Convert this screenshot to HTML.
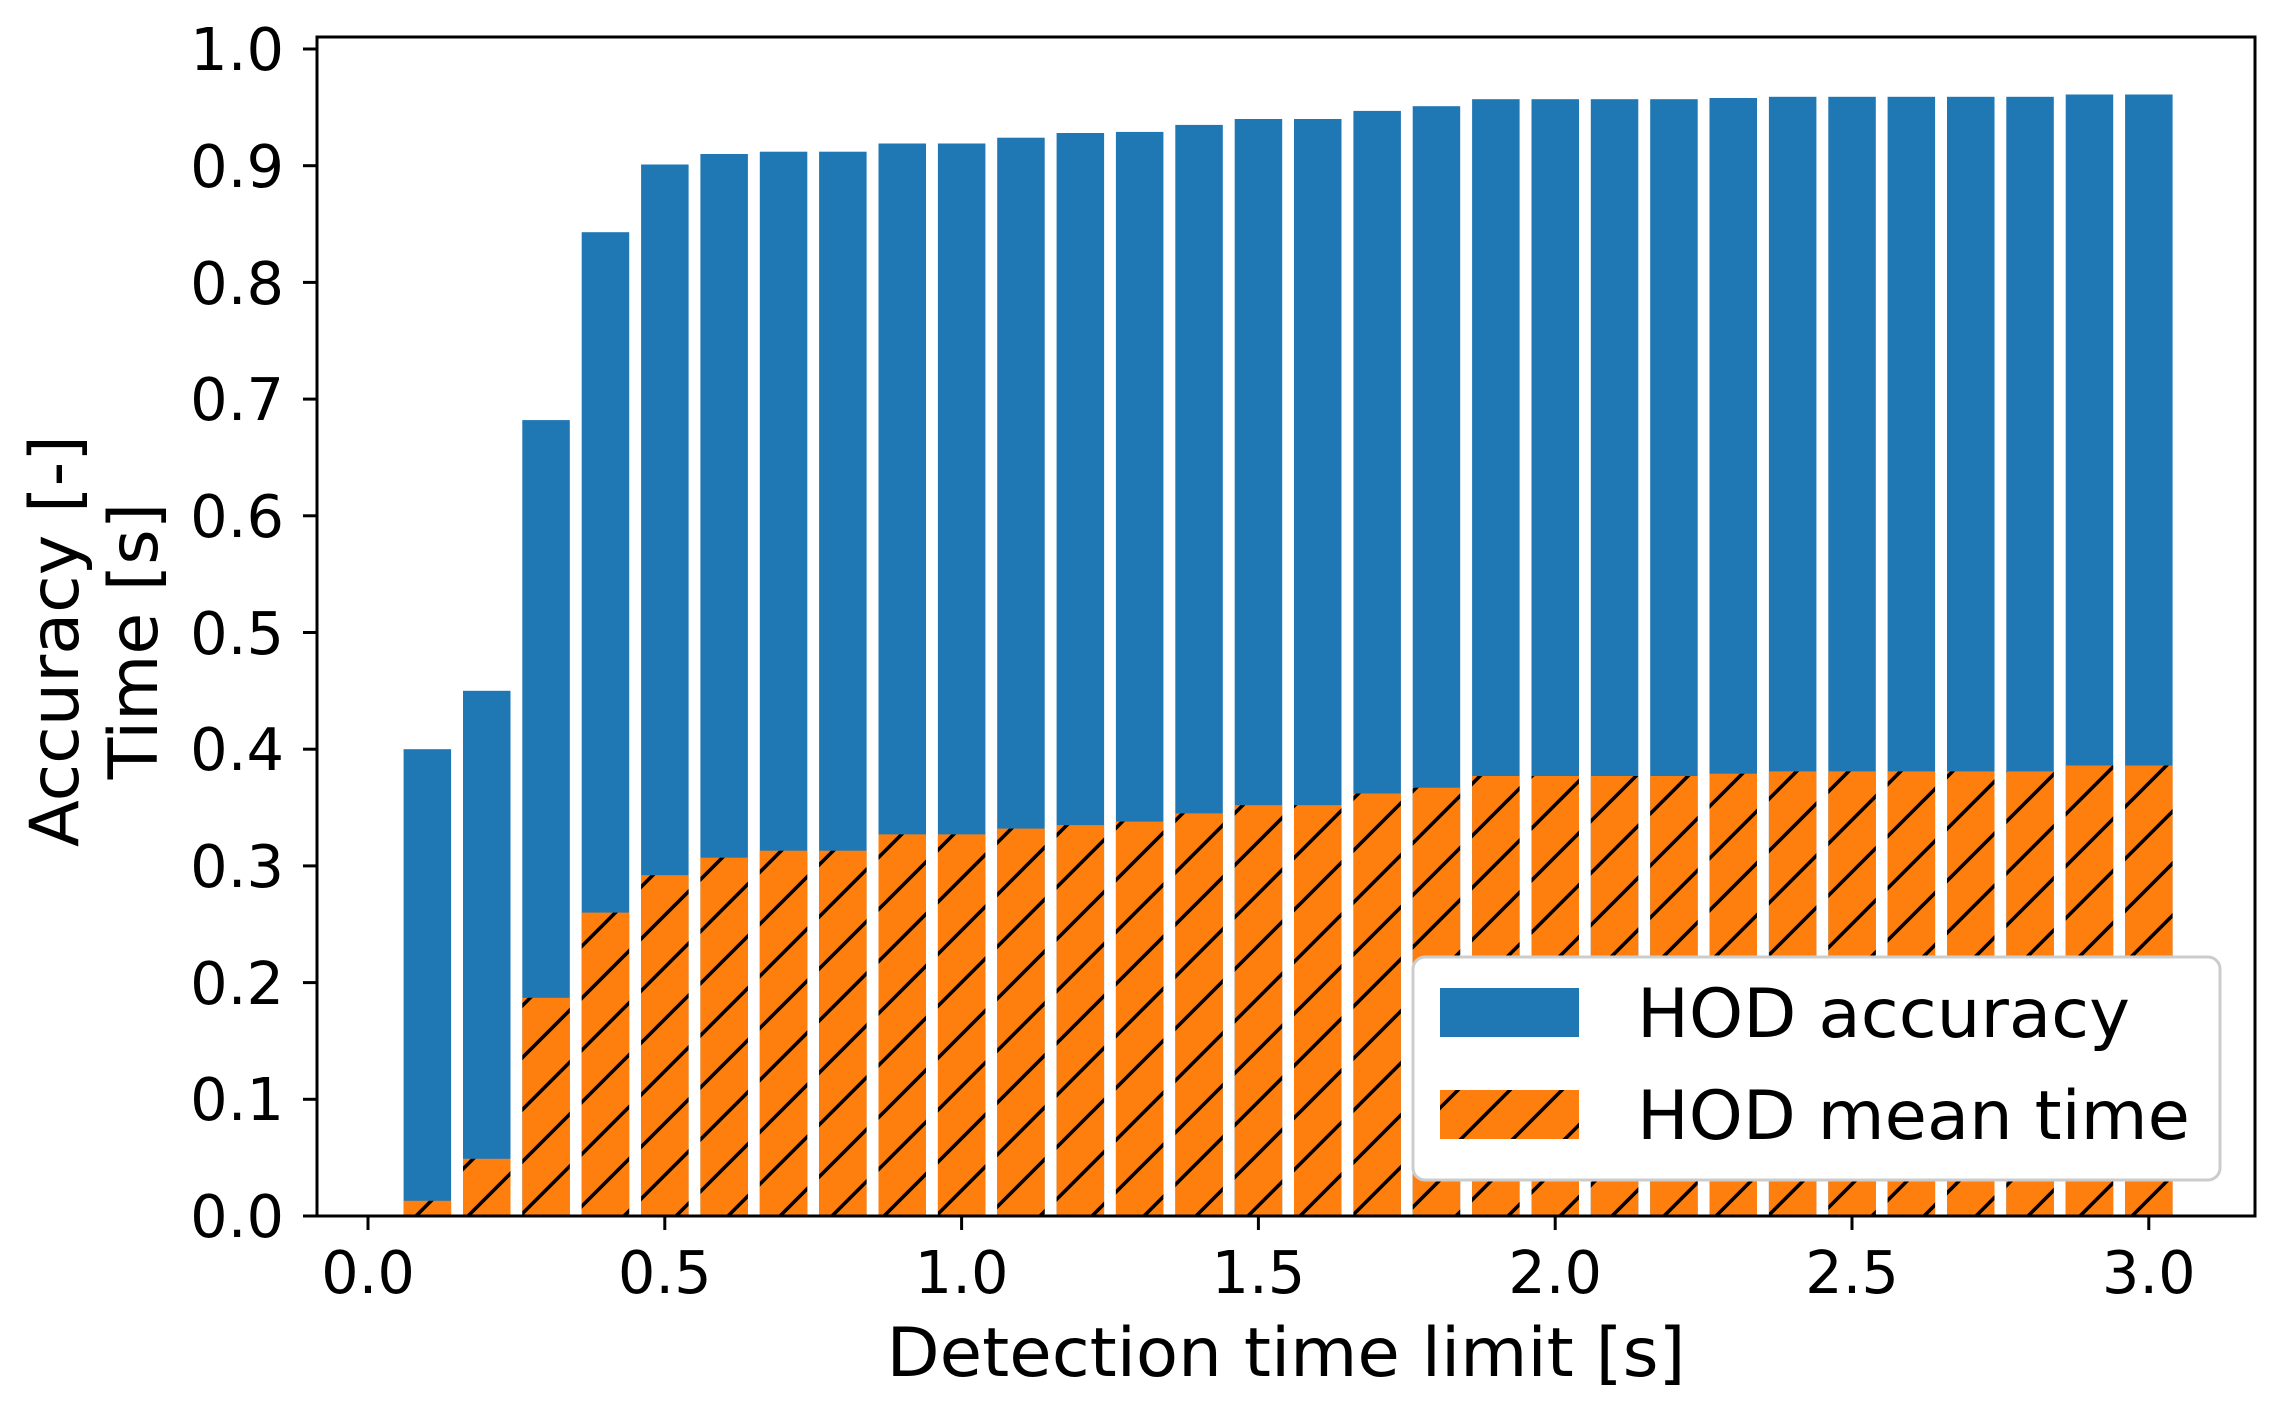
<!DOCTYPE html>
<html><head><meta charset="utf-8"><style>html,body{margin:0;padding:0;background:#fff}svg{display:block}</style></head>
<body>
<svg width="2278" height="1401" viewBox="0 0 2278 1401" xmlns="http://www.w3.org/2000/svg" font-family="DejaVu Sans, Liberation Sans, sans-serif">
<defs>
<pattern id="h" patternUnits="userSpaceOnUse" width="52" height="52">
<rect width="52" height="52" fill="#ff7f0e"/>
<path d="M-5,57 L57,-5 M-5,5 L5,-5 M47,57 L57,47" stroke="#000" stroke-width="3.6"/>
</pattern>
<pattern id="hf" patternUnits="userSpaceOnUse" width="52" height="52">
<rect width="52" height="52" fill="#ff7f0e"/>
<path d="M-5,-5 L57,57 M-5,47 L5,57 M47,-5 L57,5" stroke="#000" stroke-width="3.6"/>
</pattern>
</defs>
<rect width="2278" height="1401" fill="#fff"/>
<g transform="translate(0,1216) scale(1,-1)">
<g fill="#1f77b4">
<rect x="403.6" y="0" width="47.5" height="466.8"/>
<rect x="463.0" y="0" width="47.5" height="525.2"/>
<rect x="522.3" y="0" width="47.5" height="795.9"/>
<rect x="581.7" y="0" width="47.5" height="983.8"/>
<rect x="641.1" y="0" width="47.5" height="1051.5"/>
<rect x="700.4" y="0" width="47.5" height="1062.0"/>
<rect x="759.8" y="0" width="47.5" height="1064.3"/>
<rect x="819.1" y="0" width="47.5" height="1064.3"/>
<rect x="878.5" y="0" width="47.5" height="1072.5"/>
<rect x="937.9" y="0" width="47.5" height="1072.5"/>
<rect x="997.2" y="0" width="47.5" height="1078.3"/>
<rect x="1056.6" y="0" width="47.5" height="1083.0"/>
<rect x="1115.9" y="0" width="47.5" height="1084.1"/>
<rect x="1175.3" y="0" width="47.5" height="1091.1"/>
<rect x="1234.7" y="0" width="47.5" height="1097.0"/>
<rect x="1294.0" y="0" width="47.5" height="1097.0"/>
<rect x="1353.4" y="0" width="47.5" height="1105.1"/>
<rect x="1412.7" y="0" width="47.5" height="1109.8"/>
<rect x="1472.1" y="0" width="47.5" height="1116.8"/>
<rect x="1531.5" y="0" width="47.5" height="1116.8"/>
<rect x="1590.8" y="0" width="47.5" height="1116.8"/>
<rect x="1650.2" y="0" width="47.5" height="1116.8"/>
<rect x="1709.5" y="0" width="47.5" height="1118.0"/>
<rect x="1768.9" y="0" width="47.5" height="1119.2"/>
<rect x="1828.3" y="0" width="47.5" height="1119.2"/>
<rect x="1887.6" y="0" width="47.5" height="1119.2"/>
<rect x="1947.0" y="0" width="47.5" height="1119.2"/>
<rect x="2006.3" y="0" width="47.5" height="1119.2"/>
<rect x="2065.7" y="0" width="47.5" height="1121.5"/>
<rect x="2125.1" y="0" width="47.5" height="1121.5"/>
</g>
<g fill="url(#hf)">
<rect x="403.6" y="0" width="47.5" height="15.2"/>
<rect x="463.0" y="0" width="47.5" height="57.2"/>
<rect x="522.3" y="0" width="47.5" height="218.2"/>
<rect x="581.7" y="0" width="47.5" height="303.4"/>
<rect x="641.1" y="0" width="47.5" height="340.8"/>
<rect x="700.4" y="0" width="47.5" height="358.3"/>
<rect x="759.8" y="0" width="47.5" height="365.3"/>
<rect x="819.1" y="0" width="47.5" height="365.3"/>
<rect x="878.5" y="0" width="47.5" height="381.6"/>
<rect x="937.9" y="0" width="47.5" height="381.6"/>
<rect x="997.2" y="0" width="47.5" height="387.4"/>
<rect x="1056.6" y="0" width="47.5" height="390.9"/>
<rect x="1115.9" y="0" width="47.5" height="394.4"/>
<rect x="1175.3" y="0" width="47.5" height="402.6"/>
<rect x="1234.7" y="0" width="47.5" height="410.8"/>
<rect x="1294.0" y="0" width="47.5" height="410.8"/>
<rect x="1353.4" y="0" width="47.5" height="422.5"/>
<rect x="1412.7" y="0" width="47.5" height="428.3"/>
<rect x="1472.1" y="0" width="47.5" height="440.0"/>
<rect x="1531.5" y="0" width="47.5" height="440.0"/>
<rect x="1590.8" y="0" width="47.5" height="440.0"/>
<rect x="1650.2" y="0" width="47.5" height="440.0"/>
<rect x="1709.5" y="0" width="47.5" height="442.3"/>
<rect x="1768.9" y="0" width="47.5" height="444.6"/>
<rect x="1828.3" y="0" width="47.5" height="444.6"/>
<rect x="1887.6" y="0" width="47.5" height="444.6"/>
<rect x="1947.0" y="0" width="47.5" height="444.6"/>
<rect x="2006.3" y="0" width="47.5" height="444.6"/>
<rect x="2065.7" y="0" width="47.5" height="450.5"/>
<rect x="2125.1" y="0" width="47.5" height="450.5"/>
</g>
</g>
<rect x="317" y="37" width="1938" height="1179" fill="none" stroke="#000" stroke-width="3"/>
<g stroke="#000" stroke-width="3">
<line x1="303" y1="1216" x2="317" y2="1216"/><line x1="303" y1="1099.3" x2="317" y2="1099.3"/><line x1="303" y1="982.6" x2="317" y2="982.6"/><line x1="303" y1="865.9" x2="317" y2="865.9"/><line x1="303" y1="749.2" x2="317" y2="749.2"/><line x1="303" y1="632.5" x2="317" y2="632.5"/><line x1="303" y1="515.8" x2="317" y2="515.8"/><line x1="303" y1="399.1" x2="317" y2="399.1"/><line x1="303" y1="282.4" x2="317" y2="282.4"/><line x1="303" y1="165.7" x2="317" y2="165.7"/><line x1="303" y1="49" x2="317" y2="49"/>
<line x1="368" y1="1216" x2="368" y2="1230"/><line x1="664.8" y1="1216" x2="664.8" y2="1230"/><line x1="961.6" y1="1216" x2="961.6" y2="1230"/><line x1="1258.4" y1="1216" x2="1258.4" y2="1230"/><line x1="1555.2" y1="1216" x2="1555.2" y2="1230"/><line x1="1852" y1="1216" x2="1852" y2="1230"/><line x1="2148.8" y1="1216" x2="2148.8" y2="1230"/>
</g>
<g font-size="59" text-anchor="end" fill="#000">
<text x="284" y="1237">0.0</text><text x="284" y="1120">0.1</text><text x="284" y="1004">0.2</text><text x="284" y="887">0.3</text><text x="284" y="770">0.4</text><text x="284" y="654">0.5</text><text x="284" y="537">0.6</text><text x="284" y="420">0.7</text><text x="284" y="304">0.8</text><text x="284" y="187">0.9</text><text x="284" y="70">1.0</text>
</g>
<g font-size="59" text-anchor="middle" fill="#000">
<text x="368" y="1293">0.0</text><text x="664.8" y="1293">0.5</text><text x="961.6" y="1293">1.0</text><text x="1258.4" y="1293">1.5</text><text x="1555.2" y="1293">2.0</text><text x="1852" y="1293">2.5</text><text x="2148.8" y="1293">3.0</text>
</g>
<text x="1286" y="1376" font-size="68" text-anchor="middle" textLength="799" lengthAdjust="spacingAndGlyphs">Detection time limit [s]</text>
<text transform="translate(78,641) rotate(-90)" font-size="68" text-anchor="middle" textLength="412" lengthAdjust="spacingAndGlyphs">Accuracy [-]</text>
<text transform="translate(157,641) rotate(-90)" font-size="68" text-anchor="middle">Time [s]</text>
<rect x="1413" y="957" width="807" height="223" rx="12" fill="#fff" stroke="#ccc" stroke-width="3"/>
<rect x="1440" y="988" width="139" height="49" fill="#1f77b4"/>
<rect x="1440" y="1090" width="139" height="49" fill="url(#h)"/>
<text x="1637" y="1037" font-size="68" textLength="493" lengthAdjust="spacingAndGlyphs">HOD accuracy</text>
<text x="1637" y="1139" font-size="68" textLength="553" lengthAdjust="spacingAndGlyphs">HOD mean time</text>
</svg>
</body></html>
